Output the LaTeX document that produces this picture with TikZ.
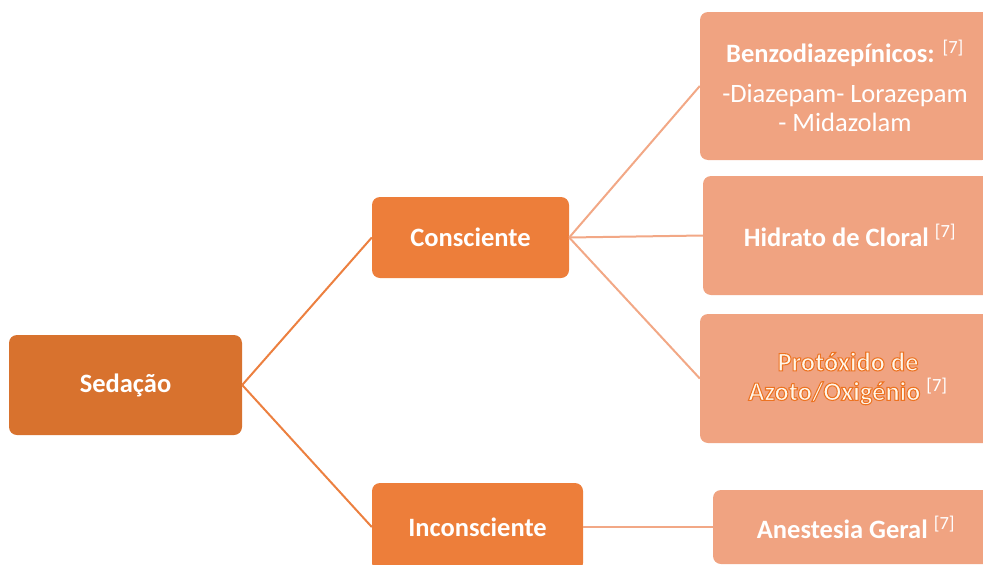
\documentclass[tikz,border=0pt]{standalone}
\usepackage{fontspec}
\setmainfont{Carlito}
\newfontface\glowface{Carlito Bold}[FakeBold=4]
\definecolor{darkor}{HTML}{D8722E}
\definecolor{midor}{HTML}{ED7E3A}
\definecolor{lightor}{HTML}{F0A381}
\definecolor{linedark}{HTML}{EC8040}
\definecolor{linelight}{HTML}{F2A886}
\newcommand{\refseven}{\textsuperscript{\mdseries[7]}}
\newcommand{\glowtext}[1]{{\glowface\special{pdf:bcolor [1 0.97 0.92] [0.93 0.45 0.13]}#1\special{pdf:ecolor}}}
\tikzset{
  box/.style={rectangle, rounded corners=8pt, text=white, font=\fontsize{26.5}{29.5}\selectfont\bfseries, align=center, inner sep=0pt},
  rootbox/.style={box, fill=darkor},
  midbox/.style={box, fill=midor},
  leafbox/.style={box, fill=lightor},
  darkline/.style={draw=linedark, line width=2pt},
  lightline/.style={draw=linelight, line width=2pt}
}
\begin{document}
\begin{tikzpicture}[x=1pt,y=-1pt]
\useasboundingbox (0,0) rectangle (983,565);
\clip (0,0) rectangle (983,565);
\node[rootbox, minimum width=233pt, minimum height=100pt] (sed) at (125.5,385) {Sedação};
\node[midbox, minimum width=197pt, minimum height=81pt] (con) at (470.5,237.5) {Consciente};
\node[midbox, minimum width=211pt, minimum height=88pt] (inc) at (477.5,527) {Inconsciente};
\node[leafbox, minimum width=290pt, minimum height=148pt] (ben) at (845,86) {%
  Benzodiazepínicos: \refseven\\[10pt]
  \mdseries -Diazepam- Lorazepam\\
  \mdseries - Midazolam};
\node[leafbox, minimum width=294pt, minimum height=119pt] (hid) at (850,235.5) {Hidrato de Cloral \refseven};
\node[leafbox, minimum width=296pt, minimum height=129pt] (pro) at (848,378.5) {%
  \glowtext{Protóxido de}\\
  \glowtext{Azoto/Oxigénio} \refseven};
\node[leafbox, minimum width=286pt, minimum height=74pt] (ane) at (856,527) {Anestesia Geral \refseven};
\draw[darkline] (sed.east) -- (con.west);
\draw[darkline] (sed.east) -- (inc.west);
\draw[lightline] (con.east) -- (ben.west);
\draw[lightline] (con.east) -- (hid.west);
\draw[lightline] (con.east) -- (pro.west);
\draw[lightline] (inc.east) -- (ane.west);
\end{tikzpicture}
\end{document}
